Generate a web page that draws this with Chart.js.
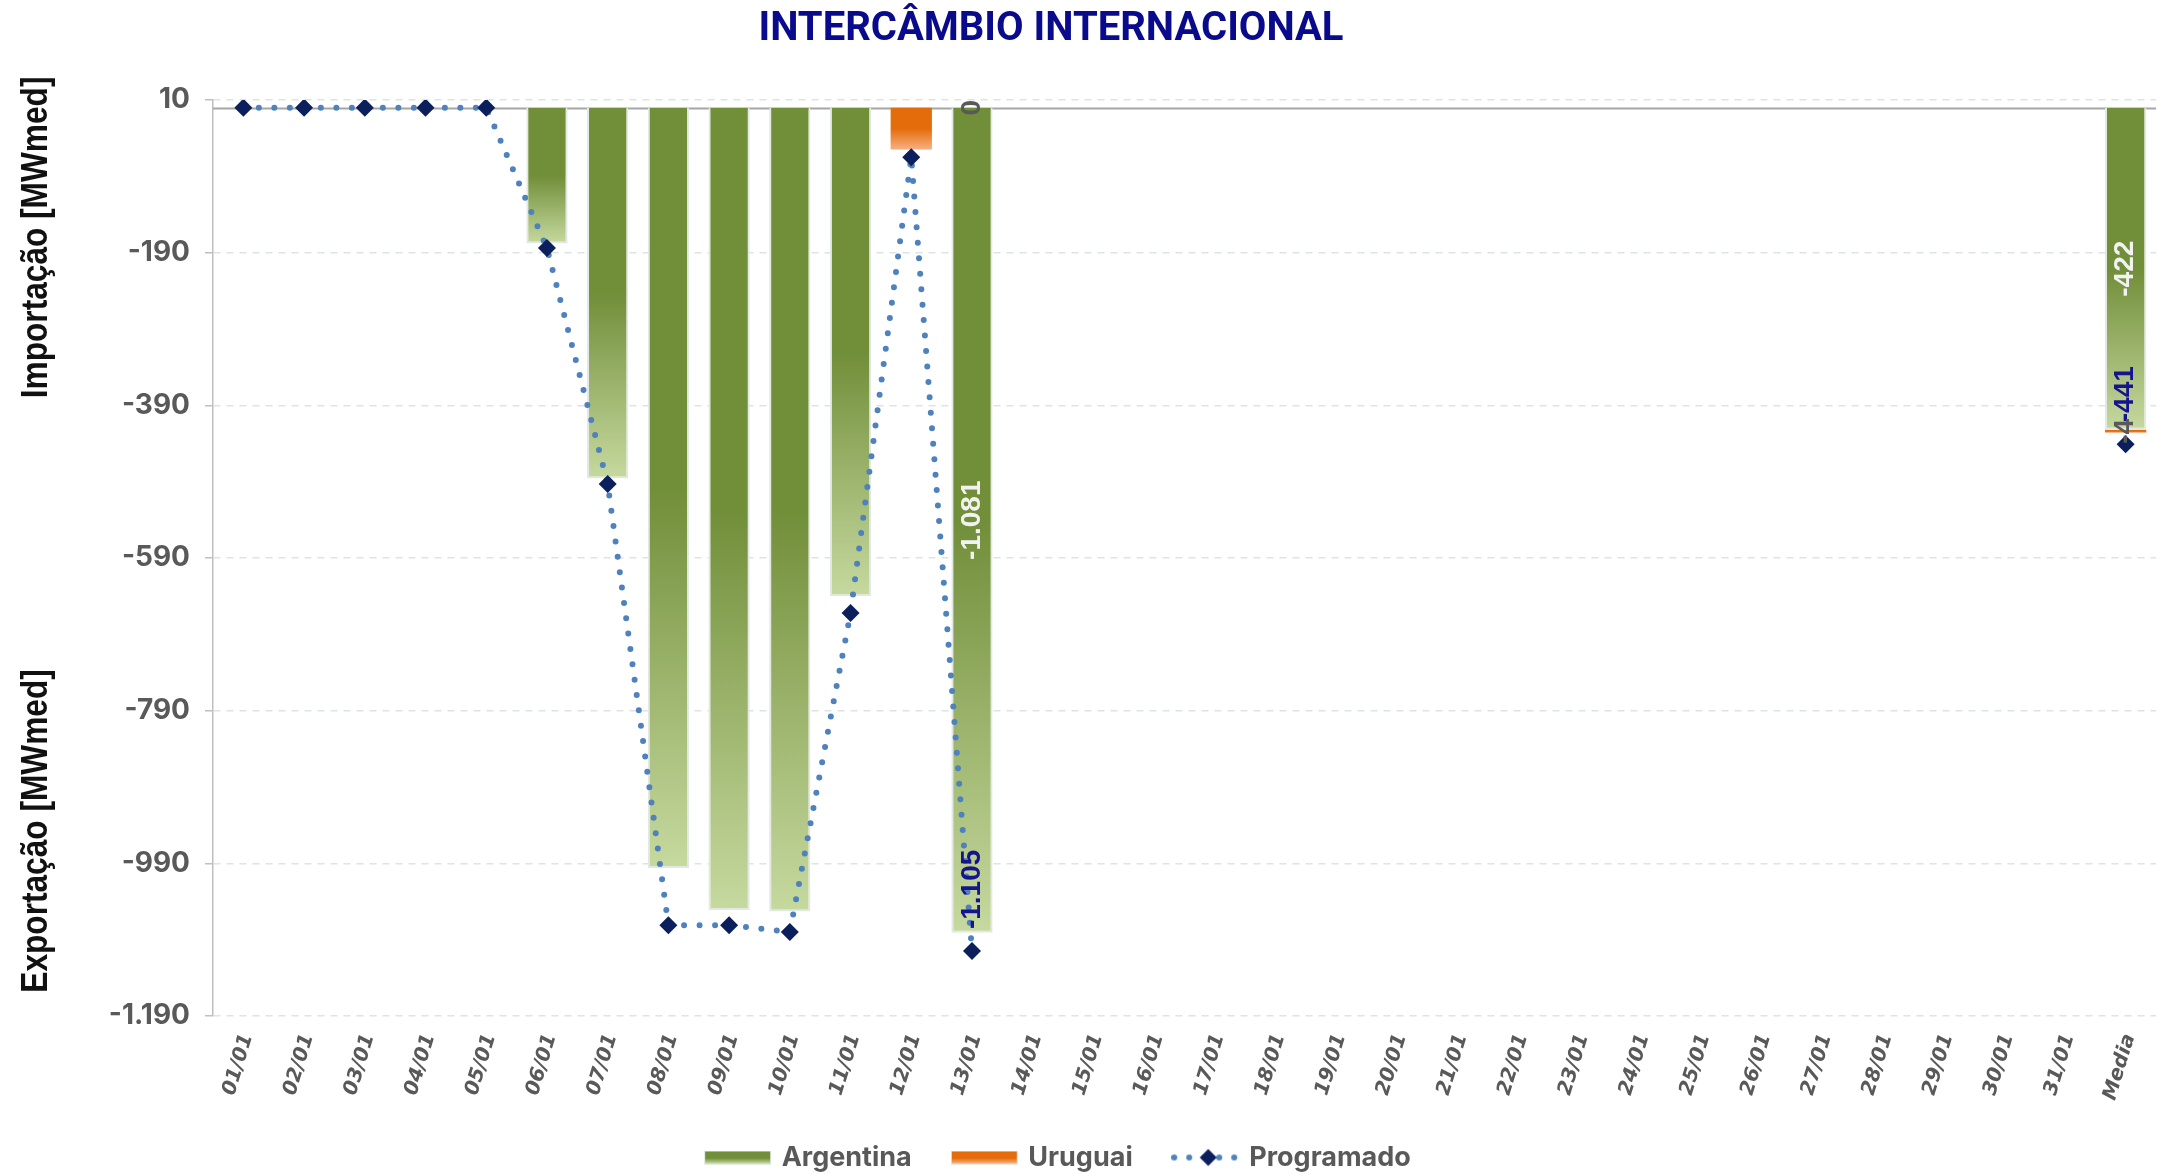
<!DOCTYPE html>
<html>
<head>
<meta charset="utf-8">
<title>Intercâmbio Internacional</title>
<script src="https://cdn.jsdelivr.net/npm/chart.js@4/dist/chart.umd.min.js"></script>
<style>
  html, body { margin: 0; padding: 0; background: #fff; }
  canvas { display: block; }
</style>
</head>
<body>
<canvas id="canvas" width="2158" height="1174"></canvas>
<script>
// Daily exchange (MWmed), negative = export
const days = [
  '01/01', '02/01', '03/01', '04/01', '05/01', '06/01', '07/01', '08/01',
  '09/01', '10/01', '11/01', '12/01', '13/01', '14/01', '15/01', '16/01',
  '17/01', '18/01', '19/01', '20/01', '21/01', '22/01', '23/01', '24/01',
  '25/01', '26/01', '27/01', '28/01', '29/01', '30/01', '31/01', 'Media'
];

const argentina = [
  null, null, null, null, null, -178, -486, -996,
  -1051, -1053, -640, null, -1081, null, null, null,
  null, null, null, null, null, null, null, null,
  null, null, null, null, null, null, null, -422
];

const uruguai = [
  null, null, null, null, null, null, null, null,
  null, null, null, -55, 0, null, null, null,
  null, null, null, null, null, null, null, null,
  null, null, null, null, null, null, null, -4
];

const programado = [
  0, 0, 0, 0, 0, -184, -493, -1071,
  -1071, -1080, -662, -65, -1105, null, null, null,
  null, null, null, null, null, null, null, null,
  null, null, null, null, null, null, null, -441
];

const yTicks = [10, -190, -390, -590, -790, -990, -1190];

// columns that carry value labels: last day with data and the average
const labeledDays = ['13/01', 'Media'];

const green = ['#718E39', '#C6D99F'];
const orange = ['#E46C0A', '#F8B084'];
const lineBlue = '#4F81BD';
const navy = '#0B1F5C';
const grey = '#595959';
const titleInset = 54;
const legendInset = 38;

Chart.defaults.font.family = 'Inter';

function fmt(v) {
  return v.toLocaleString('pt-BR');
}

// top/bottom values of a stacked bar segment
function barSpan(datasetIndex, i) {
  if (datasetIndex === 0) return [0, argentina[i] || 0];
  const start = argentina[i] < 0 ? argentina[i] : 0;
  return [start, start + (uruguai[i] || 0)];
}

function barFill(colors, datasetIndex) {
  return (ctx) => {
    const chart = ctx.chart;
    if (ctx.type !== 'data' || !chart.chartArea) return colors[0];
    const y = chart.scales.y;
    const [from, to] = barSpan(datasetIndex, ctx.dataIndex);
    const y0 = y.getPixelForValue(from);
    const y1 = y.getPixelForValue(to);
    if (!(y1 - y0 > 1)) return colors[0];
    const g = chart.ctx.createLinearGradient(0, y0, 0, y1);
    g.addColorStop(0, colors[0]);
    g.addColorStop(0.5, colors[0]);
    g.addColorStop(1, colors[1]);
    return g;
  };
}

// legend symbols
function swatch(colors) {
  const c = document.createElement('canvas');
  c.width = 67;
  c.height = 14;
  const g = c.getContext('2d');
  g.fillStyle = '#E4EAE4';
  g.fillRect(0, 0, 67, 14);
  const grad = g.createLinearGradient(0, 1, 0, 13);
  grad.addColorStop(0, colors[0]);
  grad.addColorStop(0.55, colors[0]);
  grad.addColorStop(1, colors[1]);
  g.fillStyle = grad;
  g.fillRect(1, 1, 65, 12);
  return c;
}

function lineSwatch() {
  const c = document.createElement('canvas');
  c.width = 68;
  c.height = 20;
  const g = c.getContext('2d');
  g.fillStyle = lineBlue;
  [3, 18, 33, 48, 63].forEach(x => {
    g.beginPath();
    g.arc(x, 10, 3, 0, Math.PI * 2);
    g.fill();
  });
  g.fillStyle = navy;
  g.beginPath();
  g.moveTo(37, 1.5);
  g.lineTo(45.5, 10);
  g.lineTo(37, 18.5);
  g.lineTo(28.5, 10);
  g.closePath();
  g.fill();
  return c;
}

const legendItems = [
  { text: 'Argentina', pointStyle: swatch(green), datasetIndex: 0 },
  { text: 'Uruguai', pointStyle: swatch(orange), datasetIndex: 1 },
  { text: 'Programado', pointStyle: lineSwatch(), datasetIndex: 2 }
].map(item => Object.assign(item, {
  fillStyle: 'transparent', strokeStyle: 'transparent', lineWidth: 0,
  hidden: false, fontColor: grey, rotation: 0
}));

// title and legend sit centred a little left of the canvas middle;
// the day labels are allowed to run a bit into the legend band
const headerShift = {
  id: 'headerShift',
  afterLayout(chart) {
    chart.titleBlock.right -= titleInset;
    chart.legend.right -= legendInset;
    chart.legend.top += 7;
    chart.legend.bottom += 7;
    chart.scales.x.bottom += 25;
  }
};

const zeroLine = {
  id: 'zeroLine',
  beforeDatasetsDraw(chart) {
    const { ctx, chartArea, scales: { y } } = chart;
    const py = Math.round(y.getPixelForValue(0)) + 0.5;
    ctx.save();
    ctx.strokeStyle = '#A6A6A6';
    ctx.lineWidth = 2;
    ctx.beginPath();
    ctx.moveTo(chartArea.left, py);
    ctx.lineTo(chartArea.right, py);
    ctx.stroke();
    ctx.restore();
  }
};

const valueLabels = {
  id: 'valueLabels',
  afterDatasetsDraw(chart) {
    const ctx = chart.ctx;
    const y = chart.scales.y;

    function put(text, x, yPos, align, color) {
      ctx.save();
      ctx.translate(x, yPos);
      ctx.rotate(-Math.PI / 2);
      ctx.textAlign = align;
      ctx.textBaseline = 'middle';
      ctx.fillStyle = color;
      ctx.fillText(text, 0, 0);
      ctx.restore();
    }

    ctx.save();
    ctx.font = 'bold 28px "Liberation Sans"';
    labeledDays.forEach(day => {
      const i = days.indexOf(day);
      const bar = chart.getDatasetMeta(0).data[i];
      if (argentina[i] != null) {
        put(fmt(argentina[i]), bar.x, (bar.y + bar.base) / 2, 'center', '#F2F2F2');
      }
      const pt = chart.getDatasetMeta(2).data[i];
      if (programado[i] != null) {
        put(fmt(programado[i]), pt.x, pt.y - 22, 'left', '#14148C');
      }
      const ur = chart.getDatasetMeta(1).data[i];
      if (uruguai[i] != null) {
        const yPos = uruguai[i] === 0 ? y.getPixelForValue(0) : (ur.y + ur.base) / 2;
        put(fmt(uruguai[i]), ur.x, yPos, 'center', grey);
      }
    });
    ctx.restore();
  }
};

// two vertical captions on the value axis
const axisTitles = {
  id: 'axisTitles',
  afterDraw(chart) {
    const { ctx, chartArea } = chart;
    const h = chartArea.bottom - chartArea.top;
    ctx.save();
    ctx.font = 'bold 37px "Liberation Sans"';
    ctx.fillStyle = '#111111';
    ctx.textAlign = 'center';
    ctx.textBaseline = 'middle';
    [['Importação [MWmed]', 0.15], ['Exportação [MWmed]', 0.798]].forEach(([text, f]) => {
      ctx.save();
      ctx.translate(37, chartArea.top + f * h);
      ctx.rotate(-Math.PI / 2);
      ctx.scale(0.855, 1);
      ctx.fillText(text, 0, 0);
      ctx.restore();
    });
    ctx.restore();
  }
};

new Chart(document.getElementById('canvas'), {
  type: 'bar',
  data: {
    labels: days,
    datasets: [
      {
        label: 'Argentina',
        data: argentina,
        order: 1,
        backgroundColor: barFill(green, 0),
        borderColor: '#E2E9E4',
        borderWidth: 2,
        categoryPercentage: 1,
        barPercentage: 0.68
      },
      {
        label: 'Uruguai',
        data: uruguai,
        order: 1,
        backgroundColor: barFill(orange, 1),
        borderWidth: 0,
        categoryPercentage: 1,
        barPercentage: 0.68
      },
      {
        type: 'line',
        label: 'Programado',
        data: programado,
        order: 0,
        stack: 'programado',
        borderColor: lineBlue,
        borderWidth: 6,
        borderDash: [0, 15.5],
        borderCapStyle: 'round',
        tension: 0,
        spanGaps: false,
        pointStyle: 'rectRot',
        pointRadius: 9,
        pointBackgroundColor: navy,
        pointBorderColor: navy,
        pointBorderWidth: 0
      }
    ]
  },
  options: {
    responsive: false,
    animation: false,
    events: [],
    locale: 'pt-BR',
    layout: {
      autoPadding: false,
      padding: { left: 0, right: 2, top: 0, bottom: 0 }
    },
    plugins: {
      title: {
        display: true,
        text: 'INTERCÂMBIO INTERNACIONAL',
        color: '#0A0A8C',
        font: { family: 'Roboto', size: 40, weight: 'bold' },
        padding: { top: 6, bottom: 46 }
      },
      legend: {
        position: 'bottom',
        labels: {
          usePointStyle: true,
          pointStyleWidth: 61,
          padding: 42,
          color: grey,
          font: { family: 'Inter', size: 27, weight: 'bold' },
          generateLabels: () => legendItems
        }
      },
      tooltip: { enabled: false }
    },
    scales: {
      x: {
        stacked: true,
        grid: { display: false, drawTicks: false },
        border: { display: false },
        ticks: {
          autoSkip: false,
          minRotation: 73,
          maxRotation: 73,
          padding: 15,
          labelOffset: 4,
          color: grey,
          font: { family: 'DejaVu Sans', size: 20, weight: 'bold', style: 'italic' }
        },
        afterFit: (scale) => {
          scale.height = 79;
          scale.paddingLeft = 0;
          scale.paddingRight = 0;
        }
      },
      y: {
        stacked: true,
        min: -1190,
        max: 10,
        afterBuildTicks: (scale) => { scale.ticks = yTicks.map(value => ({ value })); },
        afterFit: (scale) => { scale.width = 213; },
        grid: {
          color: '#DDE4E4',
          lineWidth: 1.5,
          tickColor: '#BFBFBF',
          tickLength: 8
        },
        border: { color: '#BFBFBF', width: 1.5, dash: [7, 6] },
        ticks: {
          padding: 15,
          color: grey,
          font: { family: 'Inter', size: 28, weight: 'bold' },
          callback: (value) => fmt(value)
        }
      }
    }
  },
  plugins: [headerShift, zeroLine, valueLabels, axisTitles]
});
</script>
</body>
</html>
